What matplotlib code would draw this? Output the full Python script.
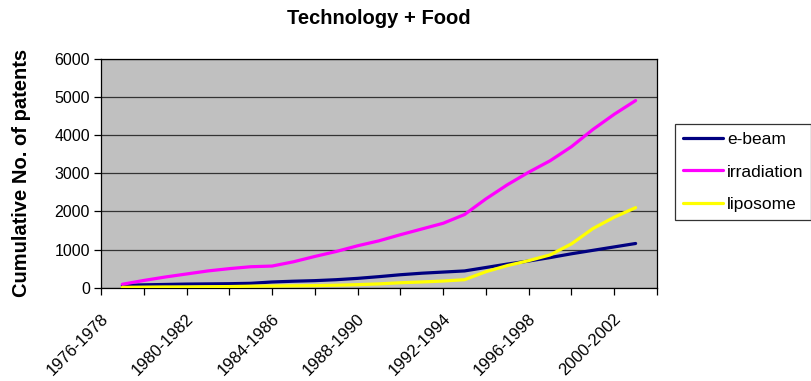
import matplotlib
matplotlib.use("Agg")
import matplotlib.pyplot as plt
import matplotlib.transforms as mtransforms

plt.rcParams['font.family'] = ['Liberation Sans', 'DejaVu Sans']

# Three-year windows, one per year
periods = [f"{y}-{y + 2}" for y in range(1976, 2001)]
shown_labels = ["1976-1978", "1980-1982", "1984-1986", "1988-1990",
                "1992-1994", "1996-1998", "2000-2002"]

ebeam = [60, 75, 85, 95, 100, 105, 115, 150, 170, 185, 210, 245, 290,
         340, 380, 410, 440, 530, 620, 700, 790, 890, 980, 1070, 1160]
irradiation = [90, 190, 280, 360, 440, 500, 550, 568, 680, 820, 950, 1100,
               1230, 1390, 1540, 1690, 1920, 2330, 2700, 3030, 3330, 3700,
               4150, 4550, 4910]
liposome = [10, 15, 20, 20, 25, 30, 40, 45, 50, 55, 65, 80, 100, 130, 150,
            175, 210, 420, 580, 710, 860, 1150, 1550, 1850, 2100]

series = [("e-beam", ebeam, "#000080"),
          ("irradiation", irradiation, "#FF00FF"),
          ("liposome", liposome, "#FFFF00")]

fig = plt.figure(figsize=(8.11, 3.81), dpi=100)
ax = fig.add_axes([101 / 811, 1 - 287.7 / 381, 556 / 811, 228.7 / 381])
ax.set_facecolor("#C0C0C0")

x = list(range(len(periods)))
for name, vals, col in series:
    ax.plot(x, vals, color=col, lw=2.3, label=name, solid_capstyle="round",
            zorder=3)

ax.set_xlim(-1, len(periods))
ax.set_ylim(0, 6000)
ax.set_yticks(range(0, 6001, 1000))
ax.yaxis.grid(True, color="#333333", lw=0.9)
ax.set_axisbelow(True)
ax.tick_params(axis="y", direction="out", length=5, width=0.9,
               labelsize=11.5, pad=3)

# label positions every 4 windows, tick marks at every other window boundary
label_pos = [periods.index(p) for p in shown_labels]
ax.set_xticks(label_pos)
ax.set_xticklabels(shown_labels, rotation=45, ha="right",
                   rotation_mode="anchor", fontsize=12)
ax.set_xticks([i - 1 for i in range(0, len(periods) + 2, 2)], minor=True)
ax.tick_params(axis="x", which="major", length=0, pad=17)
ax.tick_params(axis="x", which="minor", length=5, width=0.9, direction="out")
offset = mtransforms.ScaledTranslation(-22 / 100, 0, fig.dpi_scale_trans)
for lbl in ax.get_xticklabels():
    lbl.set_transform(lbl.get_transform() + offset)

for s in ax.spines.values():
    s.set_color("black")
    s.set_linewidth(0.9)

ax.set_ylabel("Cumulative No. of patents", fontsize=14.5, fontweight="bold")
ax.yaxis.set_label_coords(-70 / 556, 0.5)
fig.text(379 / 811, 1 - 19 / 381, "Technology + Food", fontsize=14.5,
         fontweight="bold", ha="center", va="center")

leg = ax.legend(loc="center left", bbox_to_anchor=(675 / 811, 1 - 172 / 381),
                bbox_transform=fig.transFigure, frameon=True, fancybox=False,
                edgecolor="black", fontsize=12.5, handlelength=2.3,
                labelspacing=1.0, borderpad=0.45, borderaxespad=0,
                handletextpad=0.25)
leg.get_frame().set_linewidth(0.9)
for h in leg.get_lines():
    h.set_linewidth(2.3)

fig.savefig("out.png", dpi=100)
